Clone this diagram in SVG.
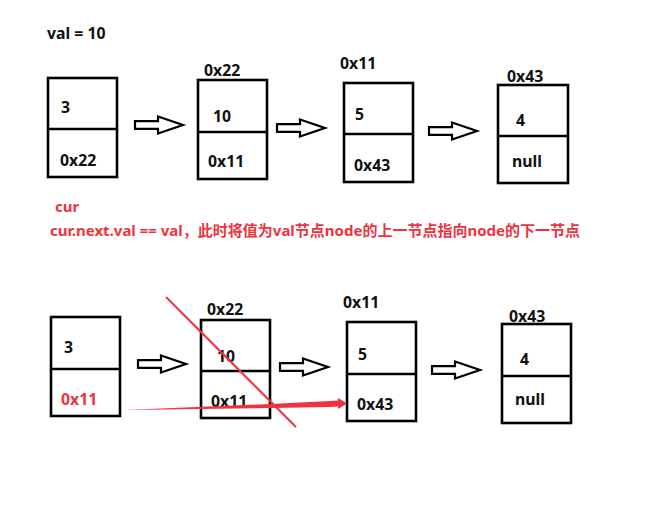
<svg xmlns="http://www.w3.org/2000/svg" width="650" height="508" viewBox="0 0 650 508">
<style>
.box{fill:#fff;stroke:#000;stroke-width:2.6}
.div{stroke:#000;stroke-width:2.6}
.t{font-family:"Noto Sans","Noto Sans CJK SC",sans-serif;font-weight:bold;font-size:15.8px;fill:#111}
.r{font-family:"Noto Sans","Noto Sans CJK SC",sans-serif;font-weight:bold;font-size:15px;fill:#ee3340}
.red{fill:#ee3340}
.ba{fill:#fff;stroke:#000;stroke-width:2.2;stroke-linejoin:miter}
</style>
<defs>
<path id="blk" d="M0,-3.8 H23 V-8.5 L48,0 L23,8.5 V3.8 H0 Z"/>
</defs>
<rect width="650" height="508" fill="#fff"/>
<text class="t" x="47" y="39">val = 10</text>

<g id="top-n1">
<rect class="box" x="48" y="78" width="69" height="99"/>
<line class="div" x1="48" y1="129" x2="117" y2="129"/>
<text class="t" x="61" y="113">3</text>
<text class="t" x="60" y="166">0x22</text>
</g>
<g id="top-n2">
<text class="t" x="204" y="76">0x22</text>
<rect class="box" x="198" y="80" width="69" height="99"/>
<line class="div" x1="198" y1="132" x2="267" y2="132"/>
<text class="t" x="213" y="122">10</text>
<text class="t" x="208" y="167">0x11</text>
</g>
<g id="top-n3">
<text class="t" x="340" y="69">0x11</text>
<rect class="box" x="344" y="83" width="69" height="99"/>
<line class="div" x1="344" y1="134" x2="413" y2="134"/>
<text class="t" x="355" y="120">5</text>
<text class="t" x="354" y="171">0x43</text>
</g>
<g id="top-n4">
<text class="t" x="507" y="82">0x43</text>
<rect class="box" x="498" y="85" width="70" height="98"/>
<line class="div" x1="498" y1="136" x2="568" y2="136"/>
<text class="t" x="516" y="126">4</text>
<text class="t" x="512" y="167">null</text>
</g>

<g id="note">
<text class="r" x="55" y="212">cur</text>
<text class="r" x="50" y="236">cur.next.val == val，此时将值为val节点node的上一节点指向node的下一节点</text>
</g>

<g id="bot-n1">
<rect class="box" x="51" y="317" width="69" height="99"/>
<line class="div" x1="51" y1="369" x2="120" y2="369"/>
<text class="t" x="64" y="353">3</text>
<text class="t" x="61" y="405" style="fill:#ee3340">0x11</text>
</g>
<g id="bot-n2">
<text class="t" x="207" y="315">0x22</text>
<rect class="box" x="201" y="320" width="69" height="98"/>
<line class="div" x1="201" y1="371" x2="270" y2="371"/>
<text class="t" x="217" y="362">10</text>
<text class="t" x="211" y="407">0x11</text>
</g>
<g id="bot-n3">
<text class="t" x="343" y="308">0x11</text>
<rect class="box" x="347" y="322" width="69" height="99"/>
<line class="div" x1="347" y1="374" x2="416" y2="374"/>
<text class="t" x="358" y="360">5</text>
<text class="t" x="357" y="410">0x43</text>
</g>
<g id="bot-n4">
<text class="t" x="509" y="322">0x43</text>
<rect class="box" x="502" y="324" width="69" height="99"/>
<line class="div" x1="502" y1="376" x2="571" y2="376"/>
<text class="t" x="520" y="365">4</text>
<text class="t" x="515" y="405">null</text>
</g>

<g id="connectors">
<use href="#blk" class="ba" transform="translate(135,125)"/>
<use href="#blk" class="ba" transform="translate(277,128)"/>
<use href="#blk" class="ba" transform="translate(429,131)"/>
<use href="#blk" class="ba" transform="translate(138,364)"/>
<use href="#blk" class="ba" transform="translate(280,367)"/>
<use href="#blk" class="ba" transform="translate(432,370)"/>
<line x1="166" y1="297" x2="296" y2="427" stroke="#ee3340" stroke-width="2"/>
<polygon class="red" points="125,410 270,404 330,401 338,400.5 338,398 347,403.5 338,409 338,406.5 330,407 270,408"/>
</g>
</svg>
